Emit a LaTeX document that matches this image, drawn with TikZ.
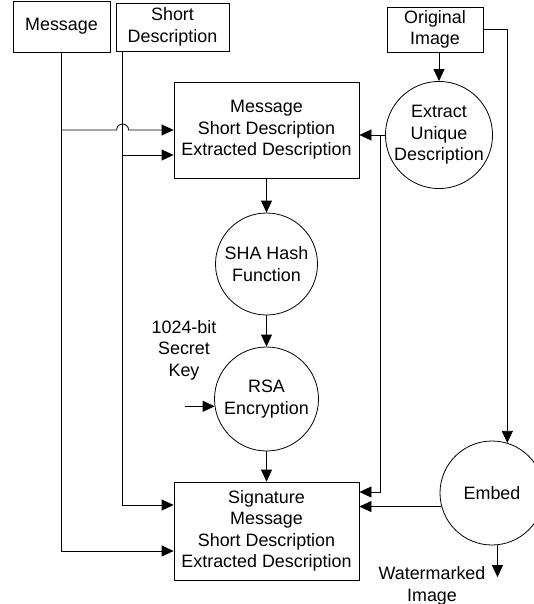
\documentclass[tikz,border=0pt]{standalone}
\usepackage{fontspec}
\setmainfont{Liberation Sans}
\usetikzlibrary{arrows.meta,calc}

\begin{document}
\begin{tikzpicture}[x=1pt,y=-1pt,
  font=\fontsize{17.9}{21.5}\selectfont,
  box/.style={draw, line width=0.8pt, align=center, inner sep=0pt},
  proc/.style={draw, circle, line width=0.8pt, align=center, inner sep=0pt, minimum size=102pt},
  wire/.style={line width=0.8pt},
  arr/.style={wire, -{Triangle[length=12pt,width=11pt]}}]
\useasboundingbox (0,0) rectangle (534,604);

% inputs along the top
\node[box, minimum width=97pt, minimum height=51pt] (msg) at (61.5,26.5) {Message};
\node[box, minimum width=113pt, minimum height=48pt] (sdesc) at (172.5,27) {Short\\Description};
\node[box, minimum width=96pt, minimum height=45pt] (orig) at (435,29.5) {Original\\Image};

% signing chain
\node[box, minimum width=185pt, minimum height=96pt] (combo) at (266.5,130) {Message\\Short Description\\Extracted Description};
\node[proc] (extract) at (439,135) {Extract\\Unique\\Description};
\node[proc] (sha) at (266.5,264) {SHA Hash\\Function};
\node[proc, minimum size=104pt] (rsa) at (266.5,399) {RSA\\Encryption};
\node[align=center] (key) at (184,350) {1024-bit\\Secret\\Key};
\node[box, minimum width=185pt, minimum height=98pt] (sig) at (266.5,531) {Signature\\Message\\Short Description\\Extracted Description};

% embedding
\node[proc, minimum size=104pt] (embed) at (492,493) {Embed};
\node[align=center] (wm) at (432,586) {Watermarked\\Image};

% helper points
\coordinate (sd) at ($(sdesc.south west)+(7,0)$);
\coordinate (jm) at (msg.south |- combo.west);
\coordinate (c2) at ($(combo.west)+(0,25)$);
\coordinate (s1) at ($(sig.west)+(0,-26)$);
\coordinate (s2) at ($(sig.west)+(0,20)$);
\coordinate (jx) at ($(extract.west -| combo.east)+(21,0)$);
\coordinate (s3) at ($(sig.east)+(0,-39)$);
\coordinate (kin) at ($(rsa.188)+(-30,0)$);
\coordinate (out) at ($(embed.-84)+(0,32)$);

% message and short description feeds
\draw[arr] (msg.south) |- (s2);
\draw[arr] (jm) -- ($(sd |- jm)+(-6,0)$) arc[start angle=180, end angle=360, radius=6] -- (combo.west);
\draw[arr] (sd) |- (s1);
\draw[arr] (sd |- c2) -- (c2);

% extracted description
\draw[arr] (extract.north |- orig.south) -- (extract.north);
\draw[arr] (extract.west) -- (extract.west -| combo.east);
\draw[arr] (jx) |- (s3);

% hash and encrypt
\draw[arr] (combo.south) -- (sha.north);
\draw[arr] (sha.south) -- (rsa.north);
\draw[arr] (kin) -- (rsa.188);
\draw[arr] (rsa.south) -- (sig.north);

% embed into image
\draw[arr] (orig.east) -| (embed.73);
\draw[arr] (embed.195) -- (embed.195 -| sig.east);
\draw[arr] (embed.-84) -- (out);
\end{tikzpicture}
\end{document}
